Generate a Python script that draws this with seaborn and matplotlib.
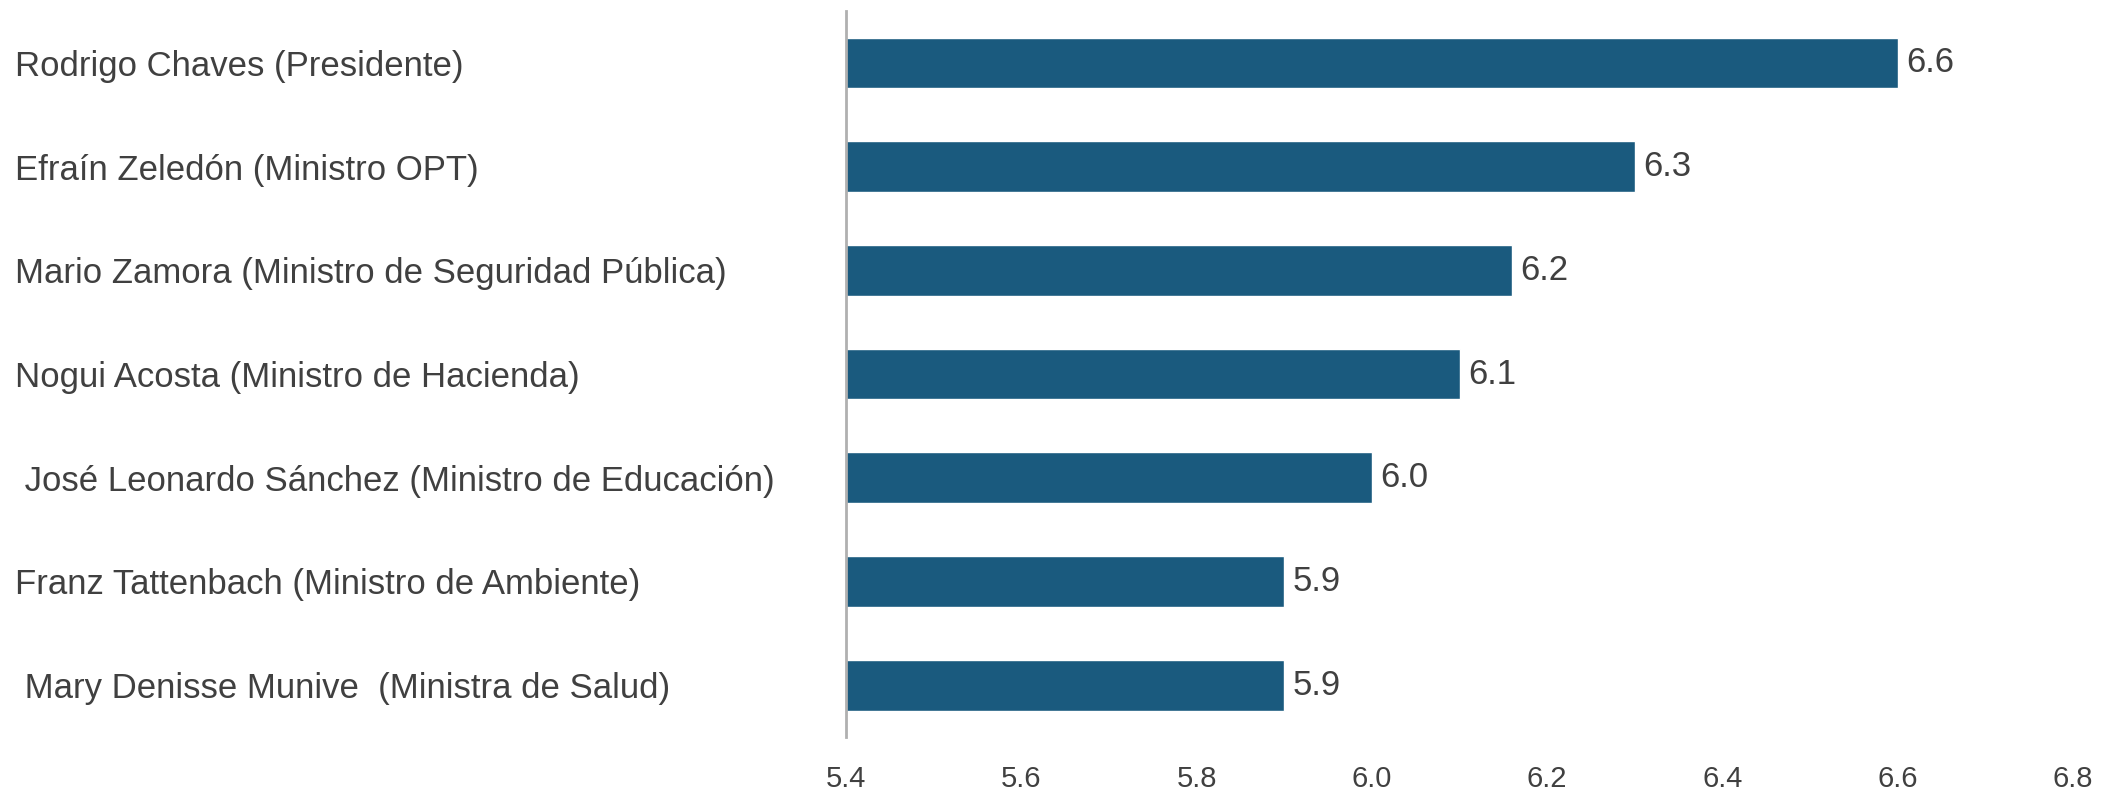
import numpy as np
import pandas as pd
import matplotlib
matplotlib.use('Agg')
import matplotlib.pyplot as plt
import seaborn as sns

# data
names = ['Rodrigo Chaves (Presidente)',
         'Efraín Zeledón (Ministro OPT)',
         'Mario Zamora (Ministro de Seguridad Pública)',
         'Nogui Acosta (Ministro de Hacienda)',
         ' José Leonardo Sánchez (Ministro de Educación)',
         'Franz Tattenbach (Ministro de Ambiente)',
         ' Mary Denisse Munive  (Ministra de Salud)']
scores = [6.6, 6.3, 6.16, 6.1, 6.0, 5.9, 5.9]
x_ticks = [5.4, 5.6, 5.8, 6.0, 6.2, 6.4, 6.6, 6.8]

df = pd.DataFrame({'name': names, 'score': scores})

sns.set_style('white')
plt.rcParams['font.family'] = ['Liberation Sans', 'DejaVu Sans']
text_col = '#404040'
bar_col = '#1a5a7e'

fig = plt.figure(figsize=(21.18, 7.9), dpi=100)
ax = fig.add_axes([0.3994, 0.067, 0.5794, 0.919])

sns.barplot(data=df, x='score', y='name', orient='h', color=bar_col,
            width=0.49, saturation=1, ax=ax)

ax.set_xlim(5.4, 6.8)
ax.set_xticks(x_ticks)
ax.set_xticklabels([f'{t:.1f}' for t in x_ticks])
ax.set_xlabel('')
ax.set_ylabel('')

for s in ['top', 'right', 'bottom']:
    ax.spines[s].set_visible(False)
ax.spines['left'].set_color('#b0b0b0')
ax.spines['left'].set_linewidth(2)

ax.tick_params(axis='x', length=0, pad=20, labelsize=21, labelcolor=text_col)
ax.tick_params(axis='y', length=0, pad=598, labelsize=25, labelcolor=text_col)
for lab in ax.get_yticklabels():
    lab.set_horizontalalignment('left')

ax.bar_label(ax.containers[0], fmt='%.1f', padding=6, fontsize=25, color=text_col)

fig.savefig('out.png', dpi=100)
